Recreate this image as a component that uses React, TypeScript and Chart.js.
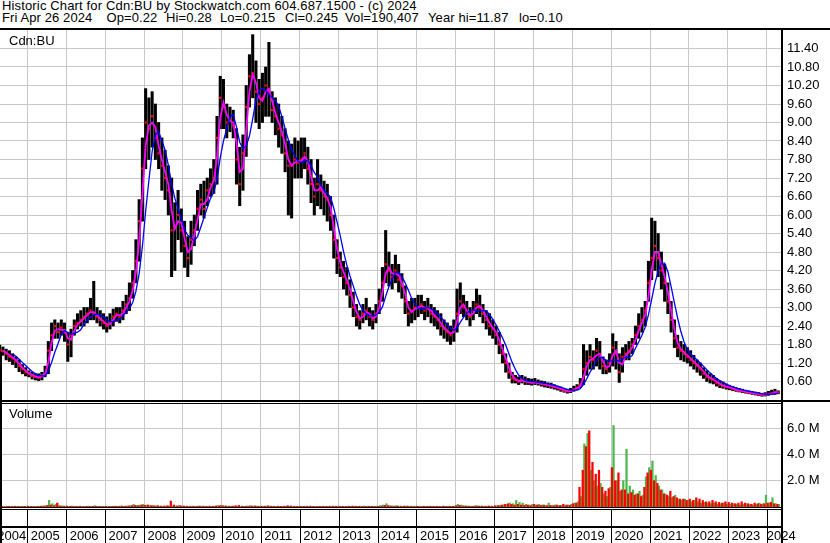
import React, { useEffect, useRef } from 'react';
import { Chart, registerables } from 'chart.js';

Chart.register(...registerables);

const FONT = "'Liberation Sans', Arial, Helvetica, sans-serif";
const GRID = '#c8c8c8';

// ---- categories (years; 2004 starts in April, 2024 ends in April) ----
const years = [2004, 2005, 2006, 2007, 2008, 2009, 2010, 2011, 2012, 2013, 2014, 2015, 2016, 2017, 2018, 2019, 2020, 2021, 2022, 2023, 2024];
const yearLabels = ['2004', '2005', '2006', '2007', '2008', '2009', '2010', '2011', '2012', '2013', '2014', '2015', '2016', '2017', '2018', '2019', '2020', '2021', '2022', '2023', '2024'];

// ---- monthly price bars (C$) ----
const highByYear = [
  [1.78, 1.72, 1.65, 1.60, 1.50, 1.40, 1.30, 1.15, 1.05],
  [0.95, 0.90, 0.85, 0.85, 0.90, 1.10, 1.90, 2.50, 2.60, 2.50, 2.60, 2.50],
  [2.20, 2.30, 2.60, 2.80, 2.90, 3.00, 3.00, 3.30, 3.85, 3.00, 2.90, 2.80],
  [2.70, 2.80, 2.95, 3.00, 3.00, 3.20, 3.40, 3.80, 4.20, 5.20, 6.50, 8.50],
  [10.10, 9.80, 10.00, 9.60, 9.00, 8.50, 8.10, 7.60, 7.20, 6.40, 6.80, 6.20],
  [5.80, 5.30, 5.80, 6.00, 6.80, 7.00, 7.10, 7.20, 7.50, 7.80, 9.20, 10.50],
  [10.40, 9.60, 9.50, 9.40, 8.80, 8.20, 8.60, 10.20, 11.20, 11.85, 11.00, 10.40],
  [10.60, 10.80, 11.60, 10.00, 9.80, 9.60, 9.20, 8.80, 8.40, 8.30, 8.50, 8.40],
  [8.50, 8.50, 8.20, 7.80, 7.20, 7.80, 7.30, 7.10, 7.00, 6.60, 6.00, 5.20],
  [4.80, 4.50, 4.30, 3.90, 3.50, 3.10, 2.90, 3.10, 3.30, 3.00, 2.90, 3.10],
  [3.60, 4.30, 5.50, 4.80, 4.40, 4.70, 4.40, 4.10, 3.70, 3.20, 3.30, 3.30],
  [3.40, 3.40, 3.20, 3.30, 3.10, 3.00, 2.90, 2.80, 2.60, 2.50, 2.40, 2.60],
  [3.60, 3.80, 3.40, 3.20, 3.00, 3.20, 3.60, 3.40, 3.10, 2.90, 2.80, 2.60],
  [2.40, 2.20, 1.80, 1.50, 1.20, 0.90, 0.80, 0.75, 0.80, 0.75, 0.70, 0.68],
  [0.70, 0.65, 0.62, 0.60, 0.56, 0.55, 0.50, 0.45, 0.42, 0.38, 0.35, 0.38],
  [0.45, 0.50, 0.70, 1.80, 1.60, 1.80, 1.60, 2.00, 1.90, 1.40, 1.30, 1.50],
  [2.15, 1.90, 1.50, 1.70, 1.80, 1.90, 2.00, 2.40, 2.80, 3.00, 3.20, 4.50],
  [5.90, 5.80, 5.40, 4.80, 4.40, 3.80, 3.20, 2.60, 2.10, 1.90, 1.80, 1.70],
  [1.60, 1.45, 1.30, 1.20, 1.05, 0.95, 0.85, 0.80, 0.70, 0.62, 0.58, 0.52],
  [0.48, 0.44, 0.40, 0.38, 0.35, 0.32, 0.30, 0.28, 0.26, 0.24, 0.22, 0.24],
  [0.28, 0.32, 0.35, 0.30],
];

const lowByYear = [
  [1.48, 1.45, 1.30, 1.25, 1.15, 1.05, 0.92, 0.85, 0.78],
  [0.75, 0.68, 0.65, 0.63, 0.65, 0.75, 0.85, 1.60, 2.00, 2.00, 2.10, 1.90],
  [1.25, 1.40, 2.10, 2.30, 2.40, 2.40, 2.50, 2.60, 2.60, 2.50, 2.40, 2.30],
  [2.20, 2.30, 2.40, 2.55, 2.50, 2.60, 2.80, 2.90, 3.30, 3.80, 4.50, 5.80],
  [7.50, 7.80, 8.20, 7.80, 7.50, 6.80, 6.50, 6.00, 4.00, 4.20, 5.20, 4.80],
  [4.30, 4.00, 4.40, 5.00, 5.50, 6.00, 5.90, 6.30, 6.60, 6.70, 7.00, 8.80],
  [8.80, 8.50, 8.70, 8.50, 7.00, 6.30, 6.80, 7.90, 9.50, 9.80, 9.00, 8.80],
  [9.00, 9.20, 9.20, 9.00, 8.60, 8.20, 8.00, 7.40, 6.00, 5.90, 7.20, 7.20],
  [7.20, 7.50, 7.00, 6.40, 6.00, 6.30, 6.20, 6.00, 5.80, 5.50, 4.60, 4.10],
  [4.00, 3.60, 3.40, 3.00, 2.70, 2.40, 2.30, 2.50, 2.60, 2.40, 2.30, 2.50],
  [2.80, 3.20, 3.80, 3.70, 3.60, 3.80, 3.50, 3.30, 2.80, 2.40, 2.50, 2.60],
  [2.70, 2.80, 2.60, 2.70, 2.50, 2.40, 2.30, 2.10, 2.00, 1.90, 1.80, 1.90],
  [2.20, 2.80, 2.70, 2.60, 2.40, 2.60, 2.80, 2.70, 2.50, 2.30, 2.10, 2.00],
  [1.80, 1.50, 1.20, 0.90, 0.70, 0.55, 0.55, 0.50, 0.55, 0.50, 0.50, 0.48],
  [0.50, 0.48, 0.45, 0.42, 0.40, 0.38, 0.35, 0.32, 0.28, 0.25, 0.22, 0.24],
  [0.28, 0.32, 0.40, 0.50, 0.80, 1.00, 1.00, 1.10, 1.00, 0.85, 0.85, 0.90],
  [1.10, 1.00, 0.57, 0.90, 1.30, 1.30, 1.50, 1.80, 2.00, 2.20, 2.40, 3.20],
  [3.90, 4.20, 4.00, 3.60, 3.20, 2.80, 2.20, 1.70, 1.40, 1.30, 1.25, 1.20],
  [1.10, 1.00, 0.90, 0.80, 0.70, 0.60, 0.55, 0.52, 0.45, 0.40, 0.38, 0.35],
  [0.33, 0.30, 0.28, 0.26, 0.24, 0.22, 0.20, 0.18, 0.16, 0.14, 0.12, 0.13],
  [0.15, 0.17, 0.18, 0.20],
];

const closeByYear = [
  [1.62, 1.58, 1.50, 1.40, 1.35, 1.25, 1.10, 1.00, 0.90],
  [0.85, 0.78, 0.75, 0.72, 0.80, 0.85, 1.60, 2.10, 2.40, 2.20, 2.35, 2.20],
  [1.80, 2.10, 2.40, 2.50, 2.60, 2.70, 2.80, 2.90, 2.80, 2.70, 2.60, 2.50],
  [2.40, 2.50, 2.70, 2.80, 2.70, 2.90, 3.10, 3.30, 3.80, 4.50, 5.80, 7.50],
  [9.00, 8.80, 9.20, 8.50, 8.00, 7.60, 7.20, 6.80, 5.50, 5.60, 6.00, 5.50],
  [5.00, 4.60, 5.20, 5.50, 6.20, 6.50, 6.20, 6.80, 7.00, 7.20, 8.50, 9.80],
  [9.50, 9.00, 9.10, 8.90, 7.80, 7.00, 8.00, 9.50, 10.50, 10.60, 10.00, 9.60],
  [9.80, 10.20, 10.00, 9.40, 9.20, 8.80, 8.60, 8.00, 7.60, 7.60, 7.80, 7.70],
  [7.80, 8.00, 7.50, 7.00, 6.60, 7.00, 6.80, 6.60, 6.50, 6.00, 5.20, 4.60],
  [4.30, 4.00, 3.80, 3.40, 3.00, 2.70, 2.60, 2.80, 2.90, 2.70, 2.60, 2.80],
  [3.20, 3.80, 4.40, 4.20, 4.00, 4.20, 3.90, 3.70, 3.20, 2.80, 2.90, 3.00],
  [3.00, 3.10, 2.90, 3.00, 2.80, 2.70, 2.60, 2.40, 2.30, 2.20, 2.10, 2.30],
  [2.80, 3.20, 3.00, 2.80, 2.70, 2.90, 3.10, 3.00, 2.80, 2.60, 2.40, 2.30],
  [2.10, 1.80, 1.50, 1.20, 0.90, 0.70, 0.65, 0.60, 0.65, 0.60, 0.58, 0.55],
  [0.58, 0.55, 0.52, 0.50, 0.48, 0.45, 0.42, 0.38, 0.35, 0.30, 0.28, 0.30],
  [0.35, 0.40, 0.50, 1.00, 1.20, 1.40, 1.30, 1.60, 1.40, 1.10, 1.00, 1.20],
  [1.70, 1.50, 0.90, 1.40, 1.50, 1.60, 1.80, 2.10, 2.40, 2.60, 2.90, 3.80],
  [4.60, 5.00, 4.60, 4.20, 3.80, 3.20, 2.60, 2.00, 1.70, 1.60, 1.50, 1.40],
  [1.30, 1.20, 1.10, 1.00, 0.85, 0.75, 0.70, 0.65, 0.55, 0.50, 0.45, 0.42],
  [0.40, 0.35, 0.33, 0.30, 0.28, 0.26, 0.24, 0.22, 0.20, 0.18, 0.17, 0.18],
  [0.20, 0.22, 0.25, 0.245],
];

// ---- monthly volume, millions of shares (green = up days, red = down days) ----
const volumeUpByYear = [
  [0.05, 0.04, 0.06, 0.03, 0.05, 0.04, 0.05, 0.06, 0.04],
  [0.05, 0.04, 0.05, 0.06, 0.08, 0.10, 0.50, 0.25, 0.20, 0.10, 0.08, 0.06],
  [0.05, 0.08, 0.06, 0.05, 0.04, 0.05, 0.06, 0.05, 0.10, 0.05, 0.04, 0.05],
  [0.04, 0.05, 0.06, 0.05, 0.08, 0.06, 0.07, 0.10, 0.20, 0.12, 0.15, 0.20],
  [0.15, 0.10, 0.12, 0.08, 0.06, 0.05, 0.06, 0.05, 0.08, 0.06, 0.10, 0.05],
  [0.05, 0.04, 0.06, 0.05, 0.08, 0.06, 0.05, 0.06, 0.05, 0.07, 0.10, 0.12],
  [0.08, 0.06, 0.05, 0.06, 0.05, 0.04, 0.06, 0.08, 0.10, 0.08, 0.06, 0.05],
  [0.06, 0.08, 0.07, 0.05, 0.04, 0.05, 0.04, 0.05, 0.06, 0.05, 0.06, 0.05],
  [0.05, 0.06, 0.04, 0.05, 0.04, 0.06, 0.05, 0.04, 0.05, 0.04, 0.05, 0.04],
  [0.05, 0.04, 0.06, 0.05, 0.06, 0.05, 0.07, 0.08, 0.06, 0.05, 0.06, 0.07],
  [0.10, 0.15, 0.25, 0.10, 0.08, 0.10, 0.06, 0.05, 0.06, 0.05, 0.07, 0.06],
  [0.05, 0.06, 0.05, 0.06, 0.05, 0.04, 0.05, 0.04, 0.05, 0.06, 0.05, 0.08],
  [0.20, 0.15, 0.10, 0.08, 0.06, 0.08, 0.10, 0.07, 0.06, 0.05, 0.06, 0.05],
  [0.08, 0.10, 0.15, 0.20, 0.30, 0.25, 0.50, 0.35, 0.30, 0.20, 0.15, 0.20],
  [0.15, 0.20, 0.15, 0.12, 0.30, 0.10, 0.15, 0.10, 0.12, 0.10, 0.15, 0.20],
  [0.30, 0.40, 0.80, 4.80, 5.60, 2.80, 2.00, 1.60, 1.80, 1.00, 0.80, 1.50],
  [6.20, 2.00, 1.20, 2.00, 4.40, 1.60, 1.30, 1.00, 1.20, 0.90, 2.30, 3.00],
  [3.50, 2.40, 1.60, 1.30, 1.00, 0.80, 0.70, 0.90, 0.60, 0.50, 0.60, 0.50],
  [0.40, 0.50, 0.40, 0.30, 0.35, 0.30, 0.25, 0.30, 0.20, 0.25, 0.30, 0.20],
  [0.20, 0.25, 0.20, 0.15, 0.20, 0.25, 0.20, 0.15, 0.20, 0.30, 0.25, 0.90],
  [0.30, 0.70, 0.25, 0.20],
];

const volumeDownByYear = [
  [0.04, 0.05, 0.03, 0.05, 0.04, 0.06, 0.05, 0.04, 0.05],
  [0.06, 0.05, 0.04, 0.05, 0.06, 0.07, 0.12, 0.15, 0.10, 0.30, 0.08, 0.06],
  [0.07, 0.05, 0.04, 0.05, 0.06, 0.04, 0.05, 0.06, 0.05, 0.06, 0.05, 0.04],
  [0.05, 0.04, 0.05, 0.06, 0.05, 0.07, 0.06, 0.08, 0.10, 0.12, 0.10, 0.15],
  [0.12, 0.15, 0.10, 0.08, 0.10, 0.07, 0.08, 0.10, 0.45, 0.15, 0.08, 0.10],
  [0.08, 0.06, 0.05, 0.06, 0.05, 0.06, 0.07, 0.05, 0.06, 0.05, 0.08, 0.10],
  [0.10, 0.08, 0.06, 0.07, 0.10, 0.12, 0.06, 0.05, 0.06, 0.07, 0.08, 0.06],
  [0.05, 0.06, 0.08, 0.06, 0.05, 0.06, 0.05, 0.07, 0.10, 0.08, 0.05, 0.04],
  [0.06, 0.05, 0.06, 0.07, 0.05, 0.04, 0.05, 0.06, 0.05, 0.06, 0.07, 0.06],
  [0.06, 0.05, 0.05, 0.06, 0.07, 0.06, 0.05, 0.04, 0.05, 0.06, 0.05, 0.04],
  [0.05, 0.08, 0.12, 0.10, 0.07, 0.06, 0.07, 0.06, 0.08, 0.07, 0.05, 0.04],
  [0.05, 0.04, 0.06, 0.05, 0.06, 0.05, 0.06, 0.05, 0.07, 0.05, 0.06, 0.05],
  [0.10, 0.12, 0.08, 0.07, 0.06, 0.05, 0.08, 0.06, 0.07, 0.06, 0.08, 0.06],
  [0.10, 0.12, 0.15, 0.20, 0.25, 0.20, 0.15, 0.20, 0.15, 0.12, 0.15, 0.10],
  [0.20, 0.15, 0.12, 0.15, 0.10, 0.12, 0.10, 0.15, 0.12, 0.20, 0.15, 0.12],
  [0.25, 0.30, 1.50, 2.80, 4.60, 5.80, 3.40, 2.50, 2.80, 1.50, 1.20, 1.40],
  [3.00, 2.00, 2.60, 1.30, 1.30, 1.00, 1.10, 0.90, 1.00, 0.80, 1.50, 2.60],
  [2.80, 2.00, 1.80, 1.30, 1.00, 0.90, 1.20, 0.80, 0.70, 0.60, 0.60, 0.50],
  [0.60, 0.50, 0.70, 0.60, 0.50, 0.40, 0.40, 0.50, 0.40, 0.35, 0.30, 0.40],
  [0.35, 0.30, 0.25, 0.30, 0.40, 0.30, 0.25, 0.20, 0.30, 0.25, 0.20, 0.25],
  [0.30, 0.35, 0.25, 0.20],
];

// ---- axis settings / texts ----
const X_MIN = 2004.30;
const X_MAX = 2024.39;
const PRICE_MAX = 12;
const priceTickValues = [0.6, 1.2, 1.8, 2.4, 3.0, 3.6, 4.2, 4.8, 5.4, 6.0, 6.6, 7.2, 7.8, 8.4, 9.0, 9.6, 10.2, 10.8, 11.4];
const VOLUME_MAX = 7.92;
const volumeTickValues = [2, 4, 6];
const SHORT_MA = 2; // months (magenta)
const LONG_MA = 5; // months (blue)

const headerTitle = 'Historic Chart for Cdn:BU by Stockwatch.com 604.687.1500 - (c) 2024';
const headerFields = ['Fri Apr 26 2024', 'Op=0.22', 'Hi=0.28', 'Lo=0.215', 'Cl=0.245', 'Vol=190,407', 'Year hi=11.87', 'lo=0.10'];
const headerFieldX = [2, 106.5, 166, 220, 285, 345, 428, 519];
const symbolLabel = 'Cdn:BU';
const volumeLabel = 'Volume';

// ---- derived series ----
const monthTimes: number[] = [];
closeByYear.forEach((row, k) => {
  const first = k === 0 ? 12 - row.length : 0;
  row.forEach((_, j) => monthTimes.push(years[k] + (first + j + 0.5) / 12));
});
const highs = highByYear.flat();
const lows = lowByYear.flat();
const closes = closeByYear.flat();
const volUp = volumeUpByYear.flat();
const volDown = volumeDownByYear.flat();

function movingAverage(values: number[], n: number) {
  return values.map((_, i) =>
    i < n - 1 ? null : values.slice(i - n + 1, i + 1).reduce((a, b) => a + b, 0) / n
  );
}
const shortMA = movingAverage(closes, SHORT_MA);
const longMA = movingAverage(closes, LONG_MA);

const timeAxis = (h: number): any => ({
  type: 'linear',
  min: X_MIN,
  max: X_MAX,
  offset: false,
  afterBuildTicks: (s: any) => {
    s.ticks = years.slice(1).map((v) => ({ value: v }));
  },
  afterFit: (s: any) => {
    s.height = h;
    s.paddingLeft = 0;
    s.paddingRight = 0;
  },
  ticks: { display: false },
  grid: { color: GRID, lineWidth: 1, drawTicks: false, offset: false },
  border: { display: false },
});

const valueAxisFit = (s: any) => {
  s.width = 48;
  s.paddingTop = 0;
  s.paddingBottom = 0;
};

const priceFrame = {
  id: 'priceFrame',
  afterDraw(chart: any) {
    const { ctx, chartArea, width } = chart;
    const { right, bottom } = chartArea;
    ctx.save();
    ctx.fillStyle = '#000';
    ctx.fillRect(0, bottom, width, 2);
    ctx.fillRect(right - 1, 0, 2, bottom);
    ctx.fillRect(0, bottom - 48, 2, 48);
    ctx.restore();
  },
};

const volumeFrame = {
  id: 'volumeFrame',
  afterDraw(chart: any) {
    const { ctx, chartArea, height } = chart;
    const { right, top, bottom } = chartArea;
    const xs = chart.scales.x;
    ctx.save();
    ctx.fillStyle = '#000';
    ctx.fillRect(0, top, right, 1);
    ctx.fillRect(0, bottom, right, 1);
    ctx.fillRect(0, bottom + 2, right, 1);
    ctx.fillRect(0, bottom + 19, right, 2);
    years.forEach((yr, k) => {
      if (k === 0) return;
      const px = Math.round(xs.getPixelForValue(yr));
      ctx.fillRect(px, bottom + 2, 1, height - bottom);
    });
    ctx.font = `13px ${FONT}`;
    ctx.textBaseline = 'alphabetic';
    yearLabels.forEach((lab, k) => {
      const w = ctx.measureText(lab).width;
      let x: number;
      if (k === 0) {
        ctx.textAlign = 'right';
        x = xs.getPixelForValue(years[1]) - 1;
      } else {
        ctx.textAlign = 'left';
        const px = xs.getPixelForValue(years[k]);
        x = px + 3.5 + w > right ? px : px + 3.5;
      }
      ctx.fillText(lab, x, bottom + 33);
    });
    ctx.fillRect(right - 1, 0, 2, height);
    ctx.fillRect(0, 0, 2, height);
    ctx.restore();
  },
};

export default function App() {
  const priceRef = useRef<HTMLCanvasElement>(null);
  const volRef = useRef<HTMLCanvasElement>(null);

  useEffect(() => {
    const tickFont = { family: FONT, size: 13 };

    const priceChart = new Chart(priceRef.current as HTMLCanvasElement, {
      type: 'bar',
      data: {
        datasets: [
          {
            type: 'line',
            label: 'Long MA',
            data: longMA.map((v, i) => ({ x: monthTimes[i], y: v })),
            borderColor: '#0000ff',
            borderWidth: 1.3,
            pointRadius: 0,
            tension: 0,
            order: 1,
          },
          {
            type: 'line',
            label: 'Short MA',
            data: shortMA.map((v, i) => ({ x: monthTimes[i], y: v })),
            borderColor: '#ff00ff',
            borderWidth: 1.8,
            pointRadius: 0,
            tension: 0,
            order: 2,
          },
          {
            type: 'line',
            label: 'Close',
            data: closes.map((v, i) => ({ x: monthTimes[i], y: v })),
            showLine: false,
            pointStyle: 'rect',
            pointRadius: 1.6,
            pointBackgroundColor: '#ff0000',
            pointBorderWidth: 0,
            order: 3,
          },
          {
            type: 'bar',
            label: 'High-Low',
            data: highs.map((h, i) => ({ x: monthTimes[i], y: [lows[i], h] })),
            backgroundColor: '#000000',
            barThickness: 2.4,
            order: 4,
          },
        ],
      } as any,
      options: {
        responsive: false,
        animation: false,
        events: [],
        layout: { padding: 0, autoPadding: false },
        plugins: { legend: { display: false }, tooltip: { enabled: false }, title: { display: false } },
        scales: {
          x: timeAxis(2),
          y: {
            type: 'linear',
            position: 'right',
            min: 0,
            max: PRICE_MAX,
            afterFit: valueAxisFit,
            afterBuildTicks: (s: any) => {
              s.ticks = priceTickValues.map((v) => ({ value: v }));
            },
            ticks: {
              autoSkip: false,
              padding: 5,
              color: '#000',
              font: tickFont,
              callback: (v: any) => Number(v).toFixed(2),
            },
            grid: { color: GRID, lineWidth: 1, drawTicks: false },
            border: { display: false },
          },
        },
      } as any,
      plugins: [priceFrame],
    });

    const volumeChart = new Chart(volRef.current as HTMLCanvasElement, {
      type: 'bar',
      data: {
        datasets: [
          {
            label: 'Down volume',
            data: volDown.map((v, i) => ({ x: monthTimes[i], y: v })),
            backgroundColor: '#ff0000',
            barThickness: 1.6,
          },
          {
            label: 'Up volume',
            data: volUp.map((v, i) => ({ x: monthTimes[i], y: v })),
            backgroundColor: '#4cb84c',
            barThickness: 1.6,
          },
        ],
      } as any,
      options: {
        responsive: false,
        animation: false,
        events: [],
        layout: { padding: { top: 1 }, autoPadding: false },
        plugins: { legend: { display: false }, tooltip: { enabled: false }, title: { display: false } },
        scales: {
          x: timeAxis(36),
          y: {
            type: 'linear',
            position: 'right',
            min: 0,
            max: VOLUME_MAX,
            afterFit: valueAxisFit,
            afterBuildTicks: (s: any) => {
              s.ticks = volumeTickValues.map((v) => ({ value: v }));
            },
            ticks: {
              autoSkip: false,
              padding: 5,
              color: '#000',
              font: tickFont,
              callback: (v: any) => `${Number(v).toFixed(1)} M`,
            },
            grid: { color: GRID, lineWidth: 1, drawTicks: false },
            border: { display: false },
          },
        },
      } as any,
      plugins: [volumeFrame],
    });

    return () => {
      priceChart.destroy();
      volumeChart.destroy();
    };
  }, []);

  const textStyle: React.CSSProperties = {
    position: 'absolute',
    fontSize: 13,
    lineHeight: '13px',
    whiteSpace: 'pre',
    color: '#000',
  };

  return (
    <div
      style={{
        position: 'absolute',
        left: 0,
        top: 0,
        width: 830,
        height: 543,
        background: '#fff',
        overflow: 'hidden',
        fontFamily: FONT,
      }}
    >
      <div style={{ position: 'absolute', left: 0, top: 0, width: 830, height: 28, borderBottom: '2px solid #000' }} />
      <div style={{ ...textStyle, left: 2, top: -1, letterSpacing: '0.15px' }}>{headerTitle}</div>
      {headerFields.map((f, i) => (
        <span key={f} style={{ ...textStyle, left: headerFieldX[i], top: 10.5, letterSpacing: '0.1px' }}>
          {f}
        </span>
      ))}
      <canvas
        ref={priceRef}
        width={830}
        height={372}
        style={{ position: 'absolute', left: 0, top: 30, display: 'block' }}
      />
      <canvas
        ref={volRef}
        width={830}
        height={141}
        style={{ position: 'absolute', left: 0, top: 402, display: 'block' }}
      />
      <div style={{ ...textStyle, left: 9, top: 34 }}>{symbolLabel}</div>
      <div style={{ ...textStyle, left: 9, top: 406.5 }}>{volumeLabel}</div>
    </div>
  );
}
